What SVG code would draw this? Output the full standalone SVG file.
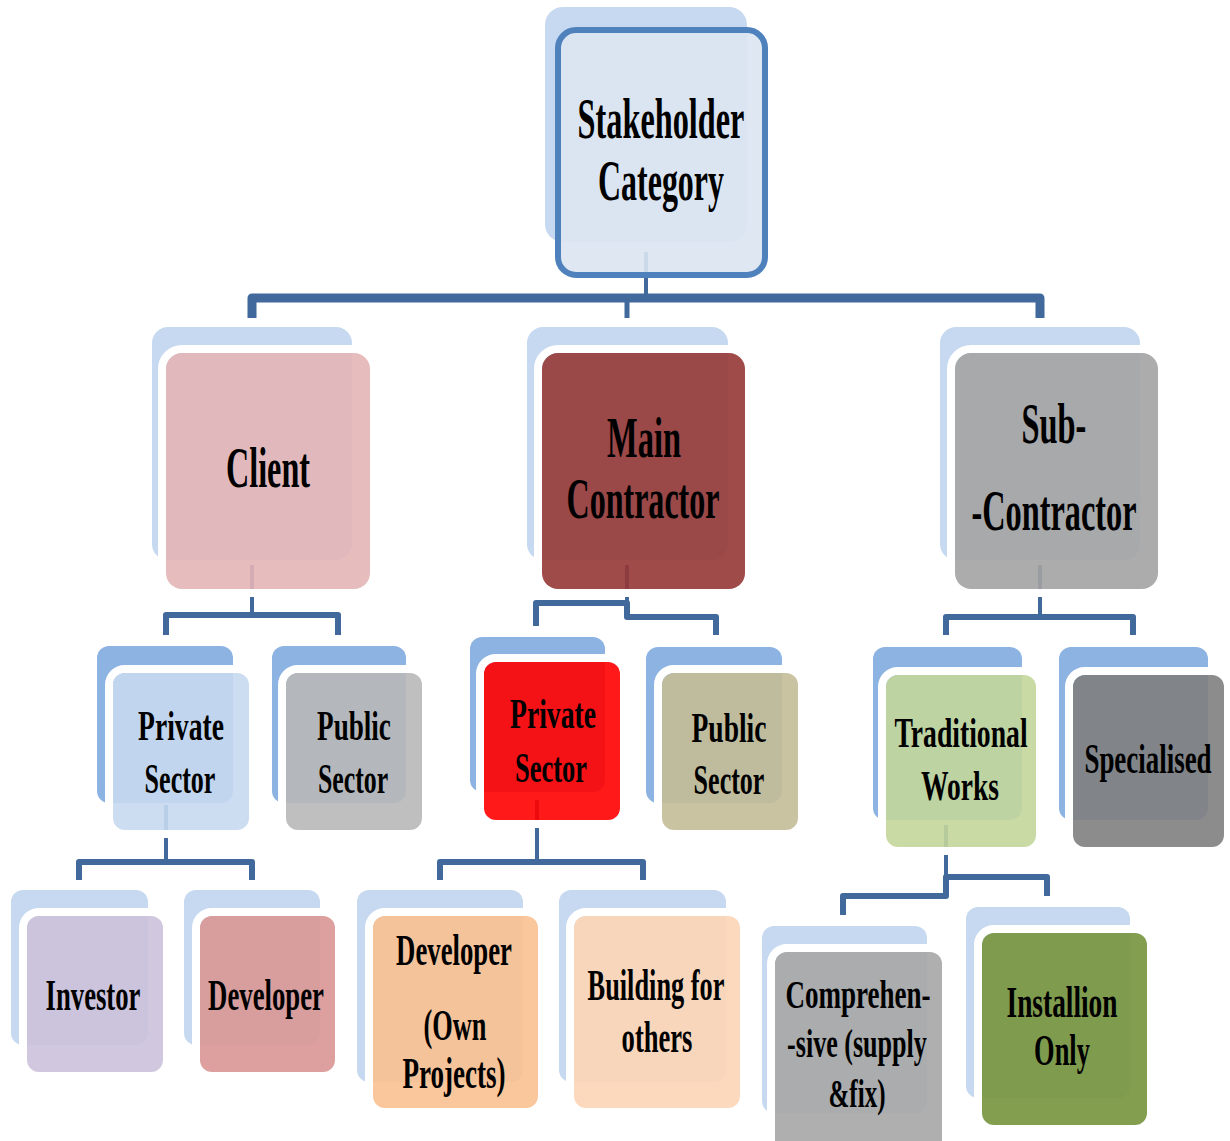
<svg xmlns="http://www.w3.org/2000/svg" width="1230" height="1141" viewBox="0 0 1230 1141">
  <defs>
    <style>
      .sh1 { fill: #c6d9f0; }
      .sh2 { fill: #8db3e2; }
      .halo { fill: none; stroke: #ffffff; stroke-width: 8; }
      .box { fill-opacity: 0.9; }
      .conn { fill: none; stroke: #41699c; stroke-linejoin: round; stroke-linecap: butt; }
      .lbl { font-family: "Liberation Serif", "Times New Roman", serif; font-weight: bold; fill: #000000; text-anchor: middle; }
      .big { font-size: 58px; }
      .mid { font-size: 42px; }
      .sm { font-size: 44px; }
      .xs { font-size: 40px; }
    </style>
  </defs>
  <rect width="1230" height="1141" fill="#ffffff"/>

  <!-- back panels -->
  <g id="panels">
    <rect class="sh1" x="545" y="7" width="202" height="235" rx="18"/>
    <rect class="sh1" x="152" y="327" width="200" height="233" rx="16"/>
    <rect class="sh1" x="527" y="327" width="201" height="233" rx="16"/>
    <rect class="sh1" x="940" y="327" width="200" height="233" rx="16"/>
    <rect class="sh2" x="97" y="646" width="136" height="157" rx="12"/>
    <rect class="sh2" x="272" y="646" width="134" height="157" rx="12"/>
    <rect class="sh2" x="470" y="637" width="135" height="155" rx="12"/>
    <rect class="sh2" x="646" y="647" width="136" height="156" rx="12"/>
    <rect class="sh2" x="873" y="647" width="149" height="173" rx="12"/>
    <rect class="sh2" x="1059" y="647" width="149" height="173" rx="12"/>
    <rect class="sh1" x="11" y="890" width="137" height="155" rx="12"/>
    <rect class="sh1" x="184" y="890" width="136" height="155" rx="12"/>
    <rect class="sh1" x="357" y="890" width="166" height="192" rx="12"/>
    <rect class="sh1" x="559" y="890" width="167" height="192" rx="12"/>
    <rect class="sh1" x="762" y="926" width="165" height="187" rx="12"/>
    <rect class="sh1" x="966" y="907" width="164" height="191" rx="12"/>
  </g>

  <!-- connectors -->
  <g id="connectors">
    <path class="conn" stroke-width="4" d="M646 252 V298"/>
    <path class="conn" stroke-width="9" d="M252 318 V298 H1040 V318"/>
    <path class="conn" stroke-width="5" d="M627 298 V318"/>

    <path class="conn" stroke-width="4" d="M252 565 V615"/>
    <path class="conn" stroke-width="6" d="M166 635 V615 H338 V635"/>

    <path class="conn" stroke-width="4" d="M627 565 V603"/>
    <path class="conn" stroke-width="6" d="M536 626 V603 H627 V617 H716 V635"/>

    <path class="conn" stroke-width="4" d="M1040 565 V617"/>
    <path class="conn" stroke-width="6" d="M946 635 V617 H1133 V635"/>

    <path class="conn" stroke-width="4" d="M166 805 V862"/>
    <path class="conn" stroke-width="6" d="M79 880 V862 H252 V880"/>

    <path class="conn" stroke-width="4" d="M537 800 V862"/>
    <path class="conn" stroke-width="6" d="M440 880 V862 H643 V880"/>

    <path class="conn" stroke-width="4" d="M946 825 V896"/>
    <path class="conn" stroke-width="6" d="M843 915 V896 H946 V877 H1047 V896"/>
  </g>

  <!-- labels are set in a condensed serif: 60% horizontal scale -->
  <g id="stakeholder-category">
    <rect x="558" y="30" width="207" height="245" rx="18" fill="#dbe5f1" fill-opacity="0.9" stroke="#4f81bd" stroke-width="6"/>
    <text class="lbl big" transform="translate(661 138) scale(0.6 1)" textLength="278" lengthAdjust="spacingAndGlyphs">Stakeholder</text>
    <text class="lbl big" transform="translate(661 200) scale(0.6 1)" textLength="210" lengthAdjust="spacingAndGlyphs">Category</text>
  </g>

  <g id="client">
    <rect class="halo" x="162" y="349" width="212" height="244" rx="20"/>
    <rect class="box" x="166" y="353" width="204" height="236" rx="16" fill="#e3b5b6"/>
    <text class="lbl big" transform="translate(268 487) scale(0.6 1)" textLength="140" lengthAdjust="spacingAndGlyphs">Client</text>
  </g>

  <g id="main-contractor">
    <rect class="halo" x="538" y="349" width="211" height="244" rx="20"/>
    <rect class="box" x="542" y="353" width="203" height="236" rx="16" fill="#953735"/>
    <text class="lbl big" transform="translate(644 457) scale(0.6 1)" textLength="123" lengthAdjust="spacingAndGlyphs">Main</text>
    <text class="lbl big" transform="translate(643 518) scale(0.6 1)" textLength="255" lengthAdjust="spacingAndGlyphs">Contractor</text>
  </g>

  <g id="sub-contractor">
    <rect class="halo" x="951" y="349" width="211" height="244" rx="20"/>
    <rect class="box" x="955" y="353" width="203" height="236" rx="16" fill="#a3a3a3"/>
    <text class="lbl big" transform="translate(1054 443) scale(0.6 1)" textLength="108" lengthAdjust="spacingAndGlyphs">Sub-</text>
    <text class="lbl big" transform="translate(1054 530) scale(0.6 1)" textLength="275" lengthAdjust="spacingAndGlyphs">-Contractor</text>
  </g>

  <g id="client-private-sector">
    <rect class="halo" x="109" y="669" width="144" height="165" rx="16"/>
    <rect class="box" x="113" y="673" width="136" height="157" rx="12" fill="#c6d9f0"/>
    <text class="lbl mid" transform="translate(181 740) scale(0.6 1)" textLength="143" lengthAdjust="spacingAndGlyphs">Private</text>
    <text class="lbl mid" transform="translate(180 793) scale(0.6 1)" textLength="118" lengthAdjust="spacingAndGlyphs">Sector</text>
  </g>

  <g id="client-public-sector">
    <rect class="halo" x="282" y="669" width="144" height="165" rx="16"/>
    <rect class="box" x="286" y="673" width="136" height="157" rx="12" fill="#b8b8b8"/>
    <text class="lbl mid" transform="translate(354 740) scale(0.6 1)" textLength="123" lengthAdjust="spacingAndGlyphs">Public</text>
    <text class="lbl mid" transform="translate(353 793) scale(0.6 1)" textLength="117" lengthAdjust="spacingAndGlyphs">Sector</text>
  </g>

  <g id="contractor-private-sector">
    <rect class="halo" x="480" y="658" width="144" height="166" rx="16"/>
    <rect class="box" x="484" y="662" width="136" height="158" rx="12" fill="#ff0000"/>
    <text class="lbl mid" transform="translate(553 728) scale(0.6 1)" textLength="143" lengthAdjust="spacingAndGlyphs">Private</text>
    <text class="lbl mid" transform="translate(551 782) scale(0.6 1)" textLength="120" lengthAdjust="spacingAndGlyphs">Sector</text>
  </g>

  <g id="contractor-public-sector">
    <rect class="halo" x="658" y="669" width="144" height="165" rx="16"/>
    <rect class="box" x="662" y="673" width="136" height="157" rx="12" fill="#c4bd97"/>
    <text class="lbl mid" transform="translate(729 742) scale(0.6 1)" textLength="125" lengthAdjust="spacingAndGlyphs">Public</text>
    <text class="lbl mid" transform="translate(729 794) scale(0.6 1)" textLength="118" lengthAdjust="spacingAndGlyphs">Sector</text>
  </g>

  <g id="traditional-works">
    <rect class="halo" x="882" y="671" width="158" height="180" rx="16"/>
    <rect class="box" x="886" y="675" width="150" height="172" rx="12" fill="#c3d69b"/>
    <text class="lbl mid" transform="translate(961 747) scale(0.6 1)" textLength="222" lengthAdjust="spacingAndGlyphs">Traditional</text>
    <text class="lbl mid" transform="translate(960 800) scale(0.6 1)" textLength="130" lengthAdjust="spacingAndGlyphs">Works</text>
  </g>

  <g id="specialised">
    <rect class="halo" x="1069" y="671" width="159" height="180" rx="16"/>
    <rect class="box" x="1073" y="675" width="151" height="172" rx="12" fill="#7f7f7f"/>
    <text class="lbl mid" transform="translate(1148 773) scale(0.6 1)" textLength="212" lengthAdjust="spacingAndGlyphs">Specialised</text>
  </g>

  <g id="investor">
    <rect class="halo" x="23" y="912" width="144" height="164" rx="16"/>
    <rect class="box" x="27" y="916" width="136" height="156" rx="12" fill="#ccc1da"/>
    <text class="lbl sm" transform="translate(93 1010) scale(0.6 1)" textLength="158" lengthAdjust="spacingAndGlyphs">Investor</text>
  </g>

  <g id="developer">
    <rect class="halo" x="196" y="912" width="143" height="164" rx="16"/>
    <rect class="box" x="200" y="916" width="135" height="156" rx="12" fill="#d99694"/>
    <text class="lbl sm" transform="translate(266 1010) scale(0.6 1)" textLength="193" lengthAdjust="spacingAndGlyphs">Developer</text>
  </g>

  <g id="developer-own-projects">
    <rect class="halo" x="369" y="912" width="173" height="200" rx="16"/>
    <rect class="box" x="373" y="916" width="165" height="192" rx="12" fill="#fac090"/>
    <text class="lbl sm" transform="translate(454 965) scale(0.6 1)" textLength="193" lengthAdjust="spacingAndGlyphs">Developer</text>
    <text class="lbl sm" transform="translate(455 1040) scale(0.6 1)" textLength="105" lengthAdjust="spacingAndGlyphs">(Own</text>
    <text class="lbl sm" transform="translate(454 1088) scale(0.6 1)" textLength="172" lengthAdjust="spacingAndGlyphs">Projects)</text>
  </g>

  <g id="building-for-others">
    <rect class="halo" x="570" y="912" width="174" height="200" rx="16"/>
    <rect class="box" x="574" y="916" width="166" height="192" rx="12" fill="#fcd5b5"/>
    <text class="lbl sm" transform="translate(656 1000) scale(0.6 1)" textLength="228" lengthAdjust="spacingAndGlyphs">Building for</text>
    <text class="lbl sm" transform="translate(657 1052) scale(0.6 1)" textLength="118" lengthAdjust="spacingAndGlyphs">others</text>
  </g>

  <g id="comprehensive">
    <rect class="halo" x="771" y="948" width="175" height="208" rx="16"/>
    <rect class="box" x="775" y="952" width="167" height="200" rx="12" fill="#a6a6a6"/>
    <text class="lbl xs" transform="translate(858 1008) scale(0.6 1)" textLength="242" lengthAdjust="spacingAndGlyphs">Comprehen-</text>
    <text class="lbl xs" transform="translate(857 1057) scale(0.6 1)" textLength="233" lengthAdjust="spacingAndGlyphs">-sive (supply</text>
    <text class="lbl xs" transform="translate(857 1107) scale(0.6 1)" textLength="95" lengthAdjust="spacingAndGlyphs">&amp;fix)</text>
  </g>

  <g id="installion-only">
    <rect class="halo" x="978" y="929" width="173" height="200" rx="16"/>
    <rect class="box" x="982" y="933" width="165" height="192" rx="12" fill="#77933c"/>
    <text class="lbl sm" transform="translate(1062 1017) scale(0.6 1)" textLength="185" lengthAdjust="spacingAndGlyphs">Installion</text>
    <text class="lbl sm" transform="translate(1062 1065) scale(0.6 1)" textLength="93" lengthAdjust="spacingAndGlyphs">Only</text>
  </g>
</svg>
